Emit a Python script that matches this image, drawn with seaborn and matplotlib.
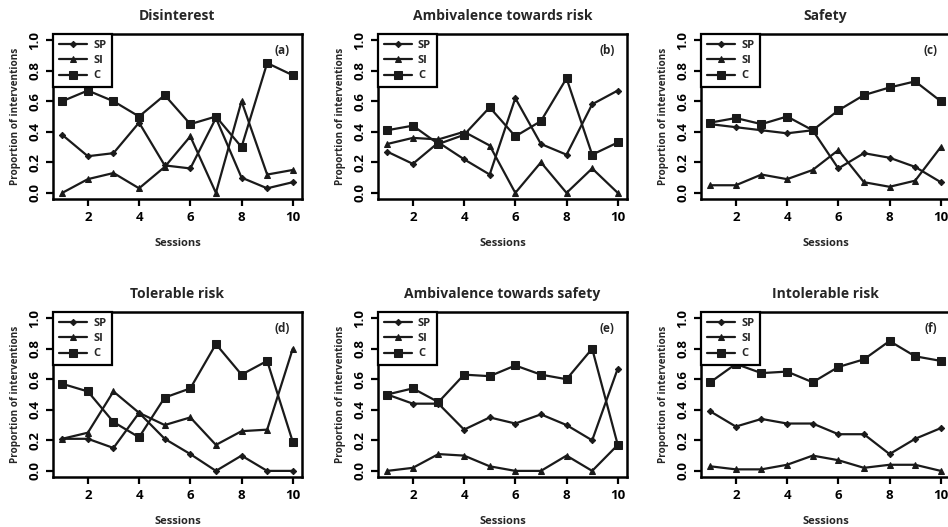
import pandas as pd
import matplotlib
matplotlib.use("Agg")
import matplotlib.pyplot as plt
import seaborn as sns

# sessions 1..10
sessions = list(range(1, 11))

titles = ["Disinterest", "Ambivalence towards risk", "Safety",
          "Tolerable risk", "Ambivalence towards safety", "Intolerable risk"]
tags = ["(a)", "(b)", "(c)", "(d)", "(e)", "(f)"]

# proportions
sp_a = [0.38, 0.24, 0.26, 0.46, 0.18, 0.16, 0.49, 0.10, 0.03, 0.07]
si_a = [0.00, 0.09, 0.13, 0.03, 0.17, 0.37, 0.00, 0.60, 0.12, 0.15]
c_a = [0.60, 0.67, 0.60, 0.50, 0.64, 0.45, 0.50, 0.30, 0.85, 0.77]

sp_b = [0.27, 0.19, 0.33, 0.22, 0.12, 0.62, 0.32, 0.25, 0.58, 0.67]
si_b = [0.32, 0.36, 0.35, 0.40, 0.31, 0.00, 0.20, 0.00, 0.16, 0.00]
c_b = [0.41, 0.44, 0.32, 0.38, 0.56, 0.37, 0.47, 0.75, 0.25, 0.33]

sp_c = [0.45, 0.43, 0.41, 0.39, 0.41, 0.16, 0.26, 0.23, 0.17, 0.07]
si_c = [0.05, 0.05, 0.12, 0.09, 0.15, 0.28, 0.07, 0.04, 0.08, 0.30]
c_c = [0.46, 0.49, 0.45, 0.50, 0.41, 0.54, 0.64, 0.69, 0.73, 0.60]

sp_d = [0.21, 0.21, 0.15, 0.38, 0.21, 0.11, 0.00, 0.10, 0.00, 0.00]
si_d = [0.21, 0.25, 0.52, 0.38, 0.30, 0.35, 0.17, 0.26, 0.27, 0.80]
c_d = [0.57, 0.52, 0.32, 0.22, 0.48, 0.54, 0.83, 0.63, 0.72, 0.19]

sp_e = [0.50, 0.44, 0.44, 0.27, 0.35, 0.31, 0.37, 0.30, 0.20, 0.67]
si_e = [0.00, 0.02, 0.11, 0.10, 0.03, 0.00, 0.00, 0.10, 0.00, 0.17]
c_e = [0.50, 0.54, 0.45, 0.63, 0.62, 0.69, 0.63, 0.60, 0.80, 0.17]

sp_f = [0.39, 0.29, 0.34, 0.31, 0.31, 0.24, 0.24, 0.11, 0.21, 0.28]
si_f = [0.03, 0.01, 0.01, 0.04, 0.10, 0.07, 0.02, 0.04, 0.04, 0.00]
c_f = [0.58, 0.70, 0.64, 0.65, 0.58, 0.68, 0.73, 0.85, 0.75, 0.72]

panels = [(sp_a, si_a, c_a), (sp_b, si_b, c_b), (sp_c, si_c, c_c),
          (sp_d, si_d, c_d), (sp_e, si_e, c_e), (sp_f, si_f, c_f)]

series_names = ["SP", "SI", "C"]
series_marker = {"SP": "D", "SI": "^", "C": "s"}
series_msize = {"SP": 3.2, "SI": 4.2, "C": 5.8}

sns.set_style("ticks")
plt.rcParams["font.family"] = ["Open Sans", "DejaVu Sans"]
plt.rcParams["font.weight"] = "bold"

W, H = 948, 527
fig = plt.figure(figsize=(W / 100, H / 100), dpi=100)

# panel boxes in pixels (third column runs off the right edge, as in the scan)
col_left = [53, 378, 701]
box_w = 249
row_top = [34, 312]
box_h = 165

for i, (sp, si, c) in enumerate(panels):
    r, k = divmod(i, 3)
    left = col_left[k] / W
    bottom = 1 - (row_top[r] + box_h) / H
    ax = fig.add_axes([left, bottom, box_w / W, box_h / H])

    df = pd.DataFrame({
        "Sessions": sessions * 3,
        "value": sp + si + c,
        "series": ["SP"] * 10 + ["SI"] * 10 + ["C"] * 10,
    })
    for name in series_names:
        sub = df[df["series"] == name]
        sns.lineplot(data=sub, x="Sessions", y="value", ax=ax, color="#1a1a1a",
                     lw=1.6, marker=series_marker[name],
                     markersize=series_msize[name], markeredgecolor="#1a1a1a",
                     label=name)

    ax.set_xlim(0.64, 10.36)
    ax.set_ylim(-0.04, 1.04)
    ax.set_xticks([2, 4, 6, 8, 10])
    ax.set_yticks([0.0, 0.2, 0.4, 0.6, 0.8, 1.0])
    ax.set_yticklabels(["0.0", "0.2", "0.4", "0.6", "0.8", "1.0"],
                       rotation=90, va="center")
    ax.tick_params(axis="both", labelsize=9.5, width=1.6, length=5,
                   color="black", labelcolor="black")
    for lab in ax.get_xticklabels() + ax.get_yticklabels():
        lab.set_fontweight("bold")
    for s in ax.spines.values():
        s.set_linewidth(1.8)
        s.set_color("black")

    ax.set_title(titles[i], fontsize=10, fontweight="bold", pad=10)
    ax.set_xlabel("Sessions", fontsize=8, fontweight="bold", labelpad=10)
    ax.set_ylabel("Proportion of interventions", fontsize=7.2,
                  fontweight="bold", labelpad=5)
    ax.text(0.95, 0.9, tags[i], transform=ax.transAxes, ha="right",
            va="center", fontsize=8.5, fontweight="bold")

    leg = ax.legend(loc="upper left", borderaxespad=0, fancybox=False,
                    frameon=True, fontsize=8, handlelength=2.6,
                    borderpad=0.5, labelspacing=0.4, handletextpad=0.5)
    leg.get_frame().set_edgecolor("black")
    leg.get_frame().set_linewidth(1.6)
    leg.get_frame().set_alpha(1)
    for t in leg.get_texts():
        t.set_fontweight("bold")
    ax.grid(False)

fig.savefig("out.png", dpi=100)
